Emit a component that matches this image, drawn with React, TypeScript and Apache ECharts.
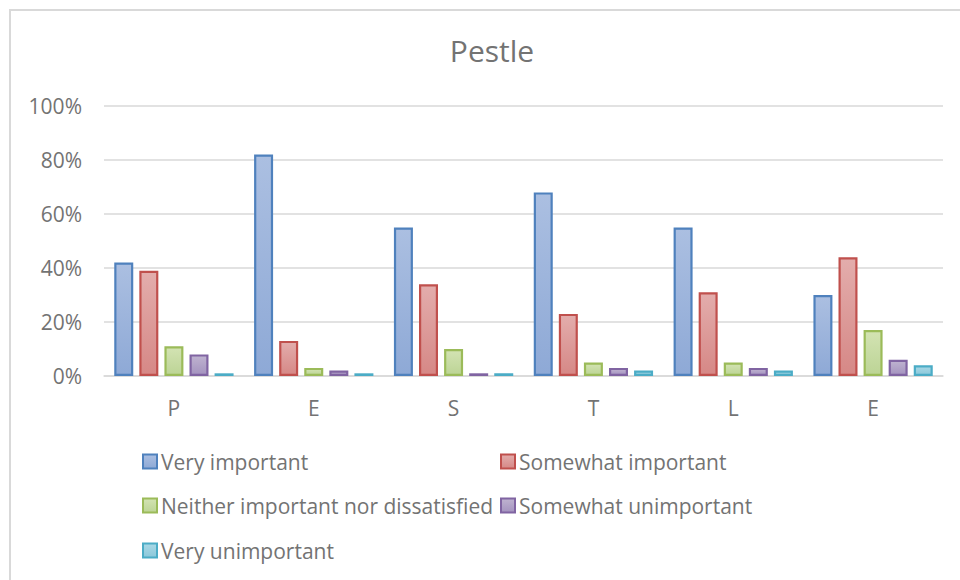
import React, { useEffect, useRef } from "react";
import * as echarts from "echarts";

const categories = ["P", "E", "S", "T", "L", "E"];
const seriesNames = [
  "Very important",
  "Somewhat important",
  "Neither important nor dissatisfied",
  "Somewhat unimportant",
  "Very unimportant",
];
const veryImportant = [0.42, 0.82, 0.55, 0.68, 0.55, 0.3];
const somewhatImportant = [0.39, 0.13, 0.34, 0.23, 0.31, 0.44];
const neither = [0.11, 0.03, 0.1, 0.05, 0.05, 0.17];
const somewhatUnimportant = [0.08, 0.02, 0.01, 0.03, 0.03, 0.06];
const veryUnimportant = [0.01, 0.01, 0.01, 0.02, 0.02, 0.04];
const yTicks = [0, 0.2, 0.4, 0.6, 0.8, 1];

const seriesValues = [veryImportant, somewhatImportant, neither, somewhatUnimportant, veryUnimportant];
const palette = [
  { top: "#abbfe1", bottom: "#8ea9d6", border: "#4f81bd" },
  { top: "#e3adac", bottom: "#d68886", border: "#c0504d" },
  { top: "#d3e3b3", bottom: "#bcd495", border: "#9bbb59" },
  { top: "#bfb3d0", bottom: "#a493bf", border: "#8064a2" },
  { top: "#a9d8e6", bottom: "#8bc8da", border: "#4bacc6" },
];
const legendPos = [
  { left: 142, top: 451 },
  { left: 500, top: 451 },
  { left: 142, top: 495 },
  { left: 500, top: 495 },
  { left: 142, top: 540 },
];

const FONT = "'Open Sans', 'Noto Sans', sans-serif";
const TEXT = "#737373";

export default function App() {
  const ref = useRef<HTMLDivElement>(null);
  useEffect(() => {
    if (!ref.current) return;
    const chart = echarts.init(ref.current, undefined, { renderer: "svg" });
    chart.setOption({
      animation: false,
      backgroundColor: "#ffffff",
      textStyle: { fontFamily: FONT },
      graphic: [
        {
          type: "rect",
          shape: { x: 10, y: 10, width: 1000, height: 1000 },
          style: { fill: "none", stroke: "#d9d9d9", lineWidth: 2 },
          silent: true,
        },
      ],
      title: {
        text: "Pestle",
        left: 492,
        textAlign: "center",
        top: 30,
        padding: 0,
        textStyle: { fontFamily: FONT, fontSize: 30, fontWeight: "normal", color: TEXT, lineHeight: 40 },
      },
      legend: seriesNames.map((n, i) => ({
        data: [n],
        left: legendPos[i].left,
        top: legendPos[i].top,
        padding: 0,
        itemWidth: 14,
        itemHeight: 14,
        icon: "rect",
        selectedMode: false,
        textStyle: { fontFamily: FONT, fontSize: 21, color: TEXT, padding: [0, 0, 0, -1] },
      })),
      grid: { left: 104, right: 17, top: 106, bottom: 204, containLabel: false },
      xAxis: {
        type: "category",
        data: categories,
        axisLine: { lineStyle: { color: "#d9d9d9", width: 1.5 } },
        axisTick: { show: false },
        axisLabel: { fontFamily: FONT, fontSize: 21, color: TEXT, margin: 21 },
      },
      yAxis: {
        type: "value",
        min: yTicks[0],
        max: yTicks[yTicks.length - 1],
        interval: 0.2,
        axisLine: { show: false },
        axisTick: { show: false },
        splitLine: { lineStyle: { color: "#d9d9d9", width: 1.5 } },
        axisLabel: {
          fontFamily: FONT,
          fontSize: 21,
          color: TEXT,
          margin: 22,
          formatter: (v: number) => Math.round(v * 100) + "%",
        },
      },
      series: seriesNames.map((n, i) => ({
        name: n,
        type: "bar",
        data: seriesValues[i],
        barWidth: 19,
        barGap: "32%",
        itemStyle: {
          color: new echarts.graphic.LinearGradient(0, 0, 0, 1, [
            { offset: 0, color: palette[i].top },
            { offset: 1, color: palette[i].bottom },
          ]),
          borderColor: palette[i].border,
          borderWidth: 2.2,
        },
      })),
    });
    return () => chart.dispose();
  }, []);
  return (
    <div
      ref={ref}
      style={{ position: "absolute", left: 0, top: 0, width: 960, height: 580 }}
    />
  );
}
